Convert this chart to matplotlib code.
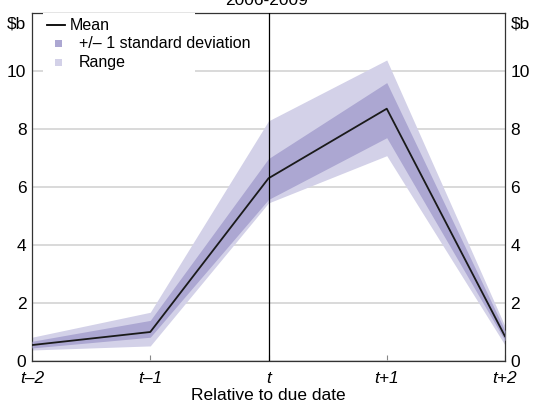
import numpy as np
import matplotlib.pyplot as plt
from matplotlib.patches import Rectangle

plt.rcParams['font.family'] = ['Liberation Sans', 'DejaVu Sans']

# periodos relativos a la fecha de vencimiento
periodos = [-2, -1, 0, 1, 2]
etiquetas = ['t\u20132', 't\u20131', 't', 't+1', 't+2']

media = [0.55, 1.0, 6.3, 8.7, 0.85]
std_baja = [0.45, 0.82, 5.57, 7.7, 0.7]
std_alta = [0.68, 1.4, 6.98, 9.6, 1.05]
rango_bajo = [0.38, 0.52, 5.45, 7.08, 0.55]
rango_alto = [0.82, 1.68, 8.28, 10.38, 1.2]

col_rango = '#d3d1e8'
col_std = '#aca7d2'

W, H = 534, 405
x0, x1, y0, y1 = 32, 505, 361, 13  # caja de ejes en pixeles

fig = plt.figure(figsize=(W/100, H/100), dpi=100)
ax = fig.add_axes([x0/W, 1 - y0/H, (x1-x0)/W, (y0-y1)/H])

ax.fill_between(periodos, rango_bajo, rango_alto, color=col_rango, lw=0, zorder=2)
ax.fill_between(periodos, std_baja, std_alta, color=col_std, lw=0, zorder=3)
ax.plot(periodos, media, color='#1a1a1a', lw=1.3, zorder=4)
ax.axvline(0, color='black', lw=0.9, zorder=5)

ax.set_xlim(-2, 2)
ax.set_ylim(0, 12)
ax.set_yticks([0, 2, 4, 6, 8, 10])
ax.yaxis.grid(True, color='#cfcfcf', lw=1.1, zorder=0)
ax.set_axisbelow(True)
ax.tick_params(axis='y', length=0, labelsize=12.5, pad=4,
               labelleft=True, labelright=True)
ax.set_xticks(periodos)
ax.set_xticklabels(etiquetas, fontstyle='italic', fontsize=12.5)
ax.tick_params(axis='x', direction='in', length=4, color='#888888', pad=7)
for s in ax.spines.values():
    s.set_color('#333333')
    s.set_linewidth(0.9)

ax.text(-0.012, 0.99, '$b', transform=ax.transAxes, ha='right', va='top', fontsize=12.5)
ax.text(1.012, 0.99, '$b', transform=ax.transAxes, ha='left', va='top', fontsize=12.5)
ax.set_xlabel('Relative to due date', fontsize=12.5, labelpad=2)
fig.text(0.5, 1 - 5/H, '2006-2009', ha='center', va='baseline', fontsize=12.5)


# leyenda dibujada a mano (en pixeles -> fraccion de ejes)
def px(x, y):
    return (x - x0) / (x1 - x0), (y0 - y) / (y0 - y1)


bx, by = px(43, 74)
bx2, by2 = px(195, 13)
ax.add_patch(Rectangle((bx, by), bx2 - bx, by2 - by, transform=ax.transAxes,
                       facecolor='white', edgecolor='none', zorder=6))
la, ya = px(47, 25)
lb, _ = px(65, 25)
ax.plot([la, lb], [ya, ya], transform=ax.transAxes, color='black', lw=1.3, zorder=7)
tx, _ = px(70, 25)
ax.text(tx, ya, 'Mean', transform=ax.transAxes, va='center', ha='left', fontsize=11.5, zorder=7)
for yy, col, lab in [(43, col_std, '+/\u2013 1 standard deviation'), (62, col_rango, 'Range')]:
    sx, sy = px(55, yy + 3.5)
    sx2, sy2 = px(62, yy - 3.5)
    ax.add_patch(Rectangle((sx, sy), sx2 - sx, sy2 - sy, transform=ax.transAxes,
                           facecolor=col, edgecolor='none', zorder=7))
    tx, ty = px(79, yy)
    ax.text(tx, ty, lab, transform=ax.transAxes, va='center', ha='left', fontsize=11.5, zorder=7)

fig.savefig('out.png', dpi=100)
